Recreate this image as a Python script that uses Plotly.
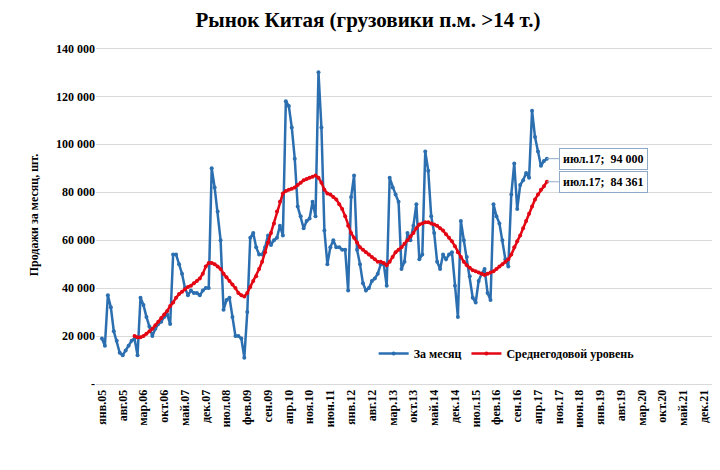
import plotly.graph_objects as go

months_ru = ["янв", "фев", "мар", "апр", "май", "июн", "июл", "авг", "сен", "окт", "ноя", "дек"]

monthly = [
    19, 16, 37, 32, 22, 18, 13, 12, 14, 16, 18, 19,
    12, 36, 33, 28, 24, 20, 23, 25, 26, 28, 29, 25,
    54, 54, 50, 46, 40, 37, 39, 38, 38, 37, 39, 40,
    40, 90, 82, 72, 60, 31, 35, 36, 28, 20, 20, 19,
    11, 30, 61, 63, 57, 54, 54, 57, 62, 58, 60, 61,
    66, 62, 118, 116, 107, 94, 74, 70, 65, 68, 69, 76,
    70, 130, 107, 64, 50, 57, 60, 57, 57, 56, 56, 39,
    78, 87, 56, 50, 42, 39, 40, 43, 44, 46, 50, 50,
    41, 86, 82, 79, 76, 48, 51, 63, 60, 66, 75, 52,
    54, 97, 89, 70, 63, 51, 48, 54, 52, 54, 55, 41,
    28, 68, 60, 53, 45, 36, 34, 43, 46, 48, 38, 35,
    75, 70, 67, 60, 52, 49, 79, 92, 73, 83, 85, 88,
    86, 114, 103, 97, 91, 93, 94,
]

avg_year = [
    20,
    19.5, 19.5, 20, 21, 22, 23, 24.5, 26, 27.5, 29, 30.5, 32.5,
    34, 36, 37.5, 38.5, 39.5, 40.5, 41, 42, 43, 44, 46, 49,
    50.5, 50.5, 50, 49, 48, 46, 44.5, 43, 41.5, 40, 38, 37,
    36.5, 38, 40.5, 43, 45, 48, 51, 55, 59, 63, 67, 72,
    76, 79.5, 80.5, 81, 81.5, 82, 83, 84, 85, 85.5, 86, 86.5,
    87, 86, 84, 81, 79.5, 79, 78, 77, 75, 73, 70, 66,
    63, 61, 59, 57, 56, 55, 54, 53, 52, 51, 51, 50.5,
    49.5, 51, 53, 55, 56, 57, 58.5, 60, 61.5, 63, 65, 66.5,
    67, 67.5, 67.5, 67, 66.5, 66, 65, 64, 62.5, 61, 59.5, 57.5,
    55, 53, 51, 49.5, 48.5, 47.5, 47, 46.5, 46, 45.5, 46, 46.5,
    47, 48, 49, 50, 51, 52, 54, 57, 59.5, 62, 65, 68,
    71, 74, 77, 79, 81, 82.5, 84.361,
]

start_avg = 11
n_total = 204  # янв.05 .. дек.21
tick_idx = list(range(0, n_total, 7))
tick_text = [f"<b>{months_ru[i % 12]}.{(5 + i // 12):02d}</b>" for i in tick_idx]

x_m = list(range(len(monthly)))
y_m = [v * 1000 for v in monthly]
x_a = list(range(start_avg, start_avg + len(avg_year)))
y_a = [v * 1000 for v in avg_year]

serif = "Liberation Serif"
fig = go.Figure()
fig.add_trace(go.Scatter(x=x_m, y=y_m, mode="lines+markers", name="<b>За месяц</b>",
                         line=dict(color="#2C6FB0", width=2.5),
                         marker=dict(size=4, color="#2C6FB0")))
fig.add_trace(go.Scatter(x=x_a, y=y_a, mode="lines+markers", name="<b>Среднегодовой уровень</b>",
                         line=dict(color="#E30613", width=2.5),
                         marker=dict(size=4, color="#E30613")))

def fmt(v):
    return f"{int(round(v)):,}".replace(",", " ")

for xv, yv in [(x_m[-1], y_m[-1]), (x_a[-1], y_a[-1])]:
    fig.add_annotation(x=xv, y=yv, text=f"<b>{months_ru[xv % 12]}.{5 + xv // 12:02d};  {fmt(yv)}</b>",
                       showarrow=True, arrowhead=0, arrowcolor="#8EA9C8", arrowwidth=1,
                       ax=12, ay=0, xanchor="left", bgcolor="white",
                       bordercolor="#8EA9C8", borderwidth=1, borderpad=3,
                       font=dict(family=serif, size=12, color="black"))

yt = list(range(0, 140001, 20000))
fig.update_layout(
    width=720, height=470,
    paper_bgcolor="white", plot_bgcolor="white",
    margin=dict(l=88, r=15, t=38, b=94),
    title=dict(text="<b>Рынок Китая (грузовики п.м. >14 т.)</b>", x=0.5, y=0.975,
               xanchor="center", yanchor="middle", font=dict(family=serif, size=21, color="black")),
    font=dict(family=serif, color="black"),
    showlegend=True,
    legend=dict(orientation="h", x=0.45, y=0.09, xanchor="left", yanchor="middle",
                font=dict(family=serif, size=12, color="black"), bgcolor="rgba(0,0,0,0)"),
    xaxis=dict(range=[-2, 206], tickvals=tick_idx, ticktext=tick_text, tickangle=-90,
               showgrid=False, showline=True, linecolor="#D9D9D9", zeroline=False,
               tickfont=dict(family=serif, size=12, color="black")),
    yaxis=dict(range=[0, 141000], tickvals=yt,
               ticktext=["<b>-</b>"] + [f"<b>{fmt(v)}</b>" for v in yt[1:]],
               showgrid=True, gridcolor="#D9D9D9", zeroline=False,
               tickfont=dict(family=serif, size=12, color="black"),
               title=dict(text="<b>Продажи за месяц, шт.</b>",
                          font=dict(family=serif, size=12, color="black"), standoff=14)),
)
fig.write_html("out.html")
